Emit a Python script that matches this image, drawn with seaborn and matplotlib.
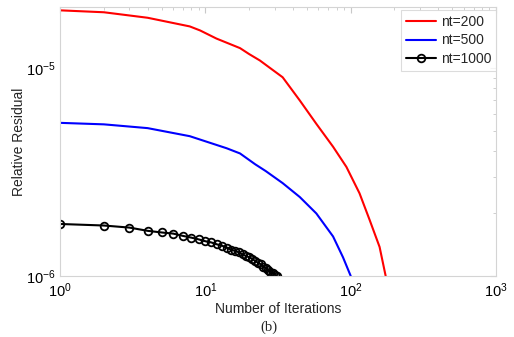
import numpy as np
import pandas as pd
import seaborn as sns
import matplotlib.pyplot as plt
from matplotlib.ticker import LogLocator, NullFormatter, FixedLocator

# values (residual in units of 1e-6)
red_iter = [1, 2, 4, 7.8, 9.2, 11.9, 17.3, 20, 23.7, 28, 34, 44.6, 58, 75.6, 93.4, 115, 135, 158, 174]
red_res = [19.0, 18.6, 17.5, 15.9, 15.2, 13.9, 12.5, 11.7, 10.9, 10.0, 9.05, 7.0, 5.4, 4.19, 3.35, 2.5, 1.86, 1.38, 1.0]

blue_iter = [1, 2, 4, 7.8, 14, 17.3, 22, 26, 34, 44.6, 58, 75.6, 88.5, 100]
blue_res = [5.46, 5.37, 5.15, 4.71, 4.12, 3.89, 3.45, 3.2, 2.8, 2.4, 2.0, 1.55, 1.23, 1.0]

black_iter = list(range(1, 32))
black_res = [1.78, 1.75, 1.71, 1.65, 1.62, 1.60, 1.56, 1.53, 1.50, 1.47,
             1.45, 1.42, 1.40, 1.37, 1.34, 1.32, 1.30, 1.27, 1.25, 1.23,
             1.21, 1.18, 1.16, 1.14, 1.11, 1.09, 1.07, 1.05, 1.03, 1.015, 1.0]

labels = ["nt=200", "nt=500", "nt=1000"]

sns.set_style("white")
plt.rcParams['font.family'] = ['Liberation Sans', 'DejaVu Sans']

fig = plt.figure(figsize=(5.14, 3.37), dpi=100)
ax = fig.add_axes([0.117, 0.181, 0.848, 0.798])

sns.lineplot(x=red_iter, y=np.array(red_res) * 1e-6, ax=ax, color="#ff0000",
             lw=1.5, label=labels[0], estimator=None, sort=False)
sns.lineplot(x=blue_iter, y=np.array(blue_res) * 1e-6, ax=ax, color="#0000ff",
             lw=1.5, label=labels[1], estimator=None, sort=False)
sns.lineplot(x=black_iter, y=np.array(black_res) * 1e-6, ax=ax, color="black",
             lw=1.5, marker="o", markersize=5.5, markerfacecolor="none",
             markeredgecolor="black", markeredgewidth=1.3,
             label=labels[2], estimator=None, sort=False)

ax.set_xscale("log")
ax.set_yscale("log")
ax.set_xlim(1, 1000)
ax.set_ylim(1e-6, 1.97e-5)

ax.yaxis.set_major_locator(FixedLocator([1e-6, 1e-5]))
ax.yaxis.set_minor_locator(LogLocator(base=10, subs=np.arange(2, 10)))
ax.yaxis.set_minor_formatter(NullFormatter())
ax.xaxis.set_minor_locator(LogLocator(base=10, subs=np.arange(2, 10)))
ax.xaxis.set_minor_formatter(NullFormatter())

for s in ax.spines.values():
    s.set_color("#d4d4d4")
    s.set_linewidth(0.8)
ax.tick_params(which="both", direction="in", top=True, right=True,
               color="#c8c8c8", labelsize=10.5, labelcolor="black")
ax.tick_params(axis="x", pad=4)
ax.tick_params(axis="y", pad=3)
ax.tick_params(which="major", length=4)
ax.tick_params(which="minor", length=2.5)

ax.set_xlabel("Number of Iterations", fontsize=10, labelpad=1)
ax.set_ylabel("Relative Residual", fontsize=10, labelpad=0)

leg = ax.legend(loc="upper right", fontsize=10, frameon=True, fancybox=False,
                borderpad=0.35, labelspacing=0.35, handlelength=2.2,
                handletextpad=0.3, borderaxespad=0.0,
                bbox_to_anchor=(1.0, 0.99))
leg.get_frame().set_edgecolor("#d4d4d4")
leg.get_frame().set_linewidth(0.8)

fig.text(0.524, 0.03, "(b)", fontsize=10.5, family="Liberation Serif",
         ha="center", va="center")

fig.savefig("out.png", dpi=100)
